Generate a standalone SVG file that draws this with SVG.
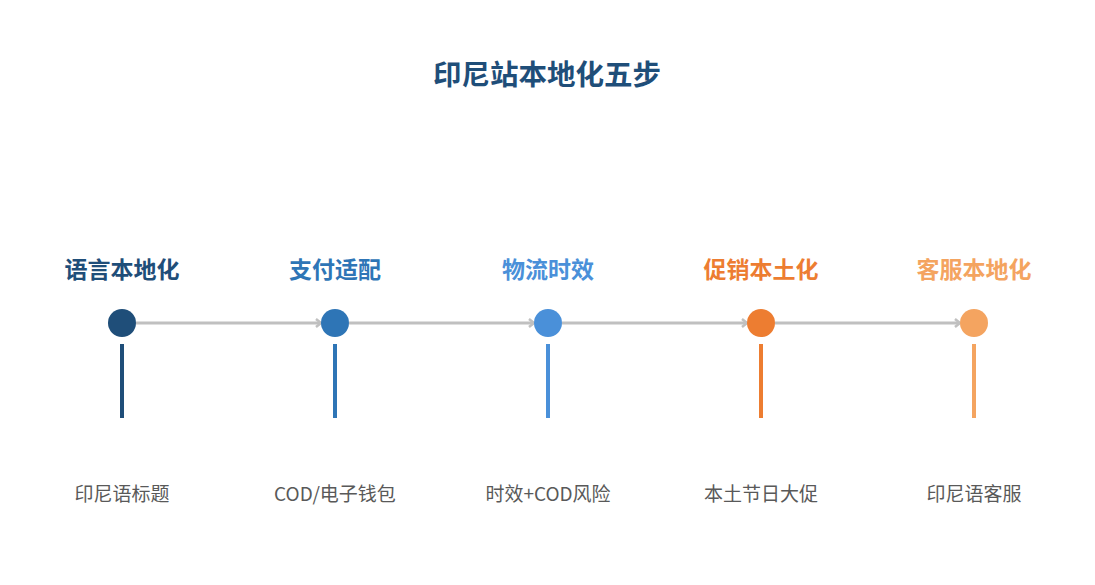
<svg xmlns="http://www.w3.org/2000/svg" width="1095" height="585" viewBox="0 0 1095 585">
<style>
text{font-family:"Noto Sans CJK SC","Noto Sans",sans-serif;text-anchor:middle}
.t{font-size:28.5px;font-weight:700;fill:#1f4e79}
.h{font-size:23px;font-weight:700}
.d{font-size:19px;fill:#595959}
.c{stroke:#c0c0c0;stroke-width:3;fill:none}
.v{stroke-width:4}
</style>
<defs>
<marker id="ar" markerWidth="10" markerHeight="10" refX="7" refY="5" orient="auto" markerUnits="userSpaceOnUse">
<path d="M2,1 L7,5 L2,9" fill="none" stroke="#c0c0c0" stroke-width="2.5"/>
</marker>
</defs>
<rect width="1095" height="585" fill="#fff"/>
<text class="t" x="547" y="85">印尼站本地化五步</text>
<g id="connectors">
<line class="c" x1="136" y1="323" x2="321" y2="323" marker-end="url(#ar)"/>
<line class="c" x1="349" y1="323" x2="534" y2="323" marker-end="url(#ar)"/>
<line class="c" x1="562" y1="323" x2="747" y2="323" marker-end="url(#ar)"/>
<line class="c" x1="775" y1="323" x2="960" y2="323" marker-end="url(#ar)"/>
</g>
<g id="step1">
<text class="h" x="122" y="278" fill="#1f4e79">语言本地化</text>
<circle cx="122" cy="323" r="14" fill="#1f4e79"/>
<line class="v" x1="122" y1="344" x2="122" y2="418" stroke="#1f4e79"/>
<text class="d" x="122" y="501">印尼语标题</text>
</g>
<g id="step2">
<text class="h" x="335" y="278" fill="#2e75b6">支付适配</text>
<circle cx="335" cy="323" r="14" fill="#2e75b6"/>
<line class="v" x1="335" y1="344" x2="335" y2="418" stroke="#2e75b6"/>
<text class="d" x="335" y="501">COD/电子钱包</text>
</g>
<g id="step3">
<text class="h" x="548" y="278" fill="#4a90d9">物流时效</text>
<circle cx="548" cy="323" r="14" fill="#4a90d9"/>
<line class="v" x1="548" y1="344" x2="548" y2="418" stroke="#4a90d9"/>
<text class="d" x="548" y="501">时效+COD风险</text>
</g>
<g id="step4">
<text class="h" x="761" y="278" fill="#ed7d31">促销本土化</text>
<circle cx="761" cy="323" r="14" fill="#ed7d31"/>
<line class="v" x1="761" y1="344" x2="761" y2="418" stroke="#ed7d31"/>
<text class="d" x="761" y="501">本土节日大促</text>
</g>
<g id="step5">
<text class="h" x="974" y="278" fill="#f4a460">客服本地化</text>
<circle cx="974" cy="323" r="14" fill="#f4a460"/>
<line class="v" x1="974" y1="344" x2="974" y2="418" stroke="#f4a460"/>
<text class="d" x="974" y="501">印尼语客服</text>
</g>
</svg>
